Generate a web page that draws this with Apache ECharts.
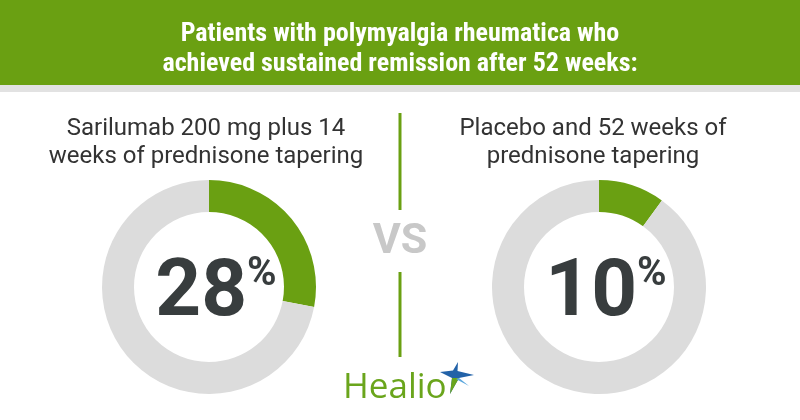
<!DOCTYPE html>
<html><head><meta charset="utf-8">
<script src="https://cdn.jsdelivr.net/npm/echarts@6/dist/echarts.min.js"></script>
<style>html,body{margin:0;padding:0;background:#fff}#c{width:800px;height:420px}</style>
</head><body><div id="c"></div>
<script>
const titleLines = ['Patients with polymyalgia rheumatica who', 'achieved sustained remission after 52 weeks:'];
const groupLabels = [
  ['Sarilumab 200 mg plus 14', 'weeks of prednisone tapering'],
  ['Placebo and 52 weeks of', 'prednisone tapering']
];
const remission = [28, 10];
const vsText = 'VS';
const brand = 'Healio';

const GREEN = '#6aa012';
const RING = '#dcdcdc';
const DARK = '#383d3e';
const centers = [[209, 287], [599, 287]];
const textCenters = [206, 593];

const chart = echarts.init(document.getElementById('c'), null, {renderer: 'canvas'});

const series = remission.map((v, i) => ({
  type: 'pie',
  silent: true,
  center: centers[i],
  radius: [75, 107],
  startAngle: 90,
  clockwise: true,
  avoidLabelOverlap: false,
  labelLine: {show: false},
  emphasis: {disabled: true},
  data: [
    {value: v, name: 'remission', itemStyle: {color: GREEN},
     label: {show: true, position: 'center', padding: [16, 0, 0, 14],
       formatter: '{n|' + v + '}{p|%}',
       rich: {
         n: {fontFamily: 'Roboto', fontWeight: 'bold', fontSize: 80, color: DARK, lineHeight: 80},
         p: {fontFamily: 'Roboto', fontWeight: 'bold', fontSize: 40, color: DARK, lineHeight: 40, verticalAlign: 'top', padding: [0, 0, 34, 0]}
       }}},
    {value: 100 - v, name: 'other', itemStyle: {color: RING}, label: {show: false}}
  ]
}));

const graphics = [
  {type: 'rect', shape: {x: 0, y: 0, width: 800, height: 85}, style: {fill: GREEN}, z: 0},
  {type: 'rect', shape: {x: 0, y: 85, width: 800, height: 7}, style: {fill: '#e2e2e2'}, z: 0},
  {type: 'text', x: 400, y: 49, z: 2, style: {text: titleLines.join('\n'), fill: '#fff',
    font: 'bold 26px "Roboto Condensed", "Liberation Sans Narrow", "DejaVu Sans Condensed", sans-serif',
    align: 'center', verticalAlign: 'middle', lineHeight: 30}},
  {type: 'line', shape: {x1: 400, y1: 113, x2: 400, y2: 210}, style: {stroke: GREEN, lineWidth: 3}},
  {type: 'line', shape: {x1: 400, y1: 272, x2: 400, y2: 357}, style: {stroke: GREEN, lineWidth: 3}},
  {type: 'text', x: 400, y: 242, style: {text: vsText, fill: '#c8c8c8', font: 'bold 43px Roboto, sans-serif', align: 'center', verticalAlign: 'middle'}},
  {type: 'text', x: 343, y: 388, style: {text: brand, fill: '#6aa51c', font: '35px "Open Sans", sans-serif', align: 'left', verticalAlign: 'middle'}},
  {type: 'polygon', shape: {points: [[458,362],[457.5,371],[474,375],[459,378],[450,394],[452,378],[440,372],[453,370.5]]}, style: {fill: '#2262a8'}},
  {type: 'polygon', shape: {points: [[459,378],[450,394],[452,378]]}, style: {fill: '#6aa51c'}},
  {type: 'polygon', shape: {points: [[459,378],[469,386],[456,379]]}, style: {fill: '#5aa6dd'}}
];
groupLabels.forEach((lines, i) => {
  graphics.push({type: 'text', x: textCenters[i], y: 143, style: {text: lines.join('\n'), fill: '#333',
    font: '24px Roboto, sans-serif', align: 'center', verticalAlign: 'middle', lineHeight: 28}});
});

chart.setOption({
  backgroundColor: '#fff',
  animation: false,
  series: series,
  graphic: graphics
});
</script></body></html>
